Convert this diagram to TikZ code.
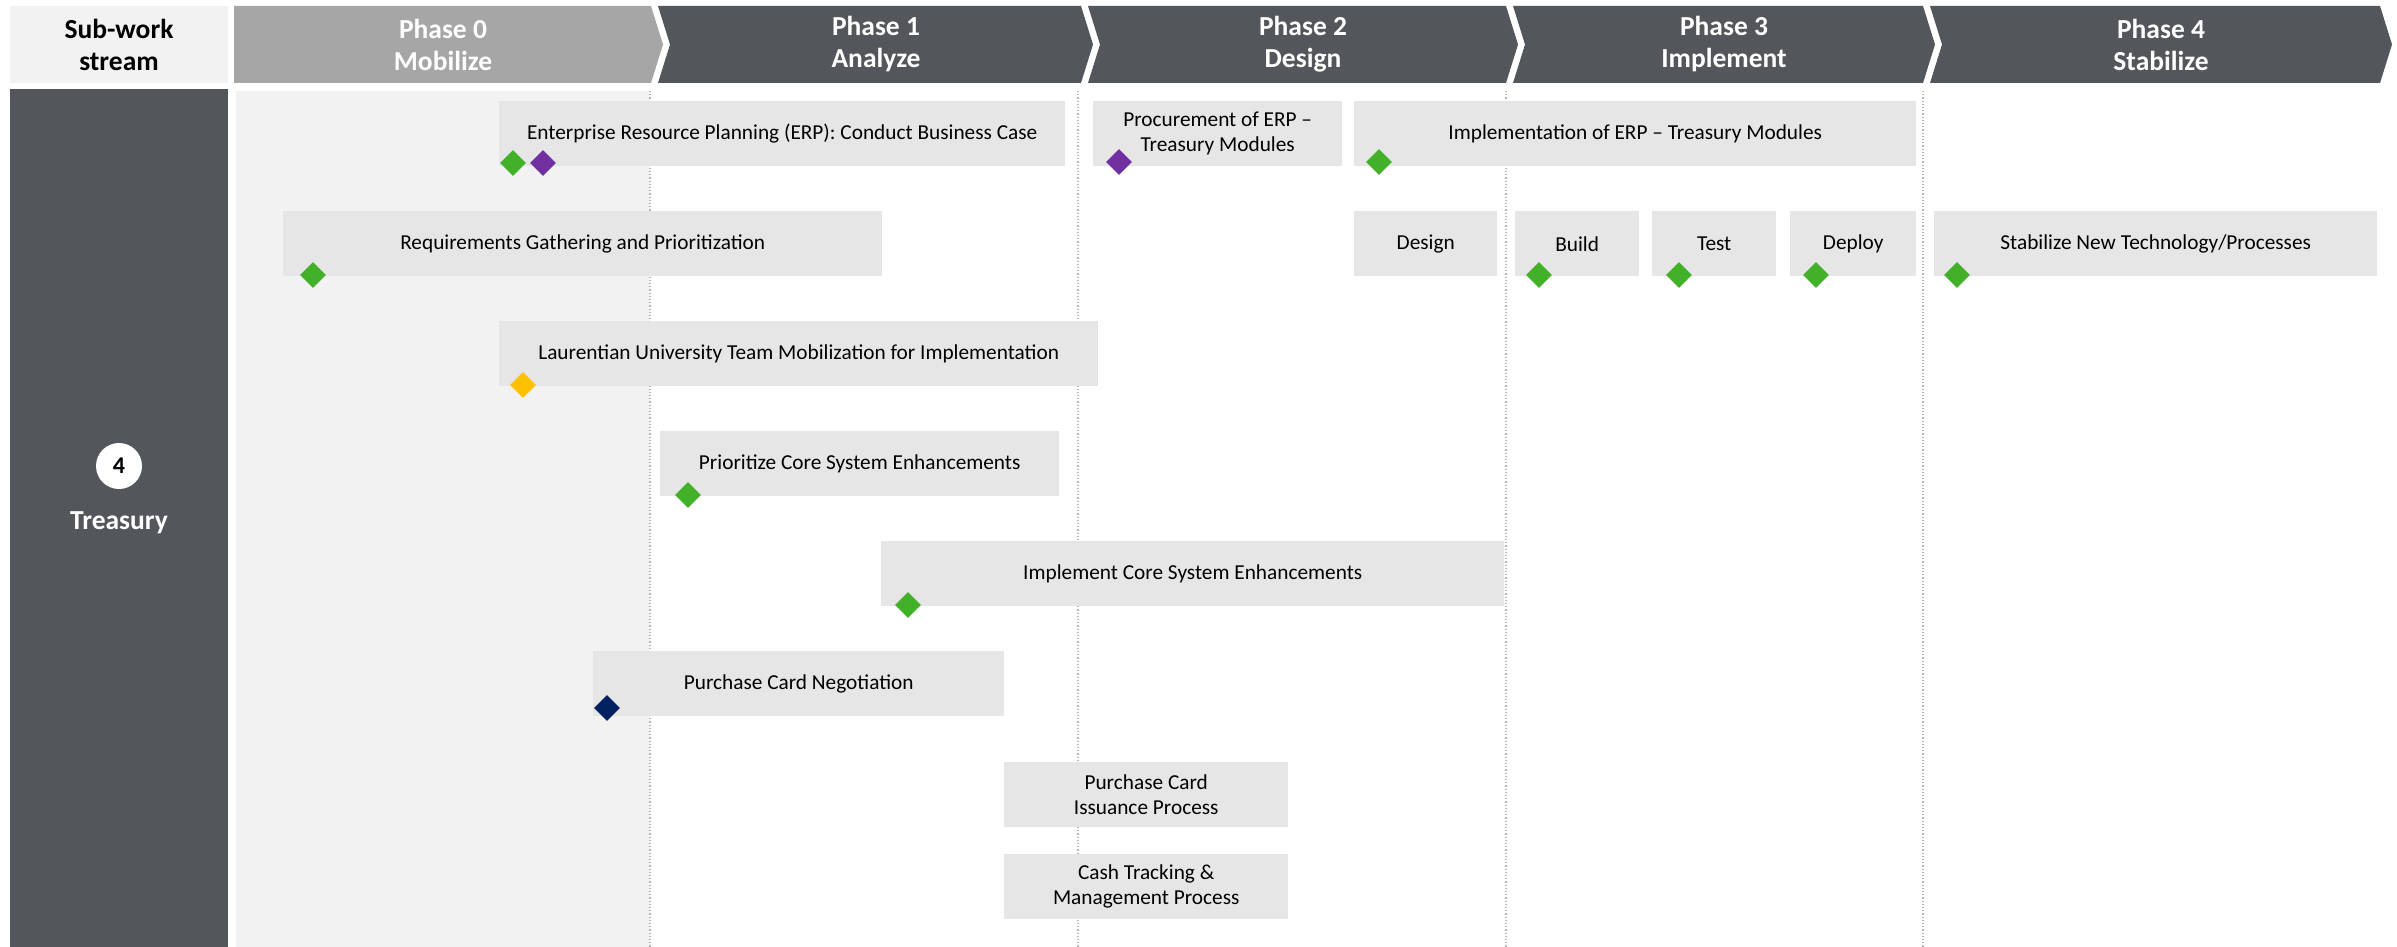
\documentclass[tikz,border=0pt]{standalone}
\usepackage{fontspec}
\setmainfont{Carlito}
\usetikzlibrary{positioning, shapes.geometric}

\definecolor{slate}{HTML}{53565A}
\definecolor{phasegrey}{HTML}{A6A6A6}
\definecolor{paleback}{HTML}{F2F2F2}
\definecolor{barfill}{HTML}{E6E6E6}
\definecolor{divline}{HTML}{B4B4B4}
\definecolor{msgreen}{HTML}{43B02A}
\definecolor{mspurple}{HTML}{7030A0}
\definecolor{msyellow}{HTML}{FFC000}
\definecolor{msnavy}{HTML}{002060}

\tikzset{
  x=1pt, y=-1pt, % one unit is one pixel of the slide, y runs downwards
  task/.style={rectangle, fill=barfill, anchor=north west, minimum height=65pt,
    inner sep=0pt, align=center, font=\fontsize{21.3}{25}\selectfont}, % activity bar
  ms/.style={diamond, minimum width=26pt, minimum height=26pt, inner sep=0pt}, % milestone
  phaselabel/.style={text=white, align=center,
    font=\fontsize{27.5}{32}\selectfont\bfseries}, % text in the header chevrons
  divider/.style={divline, dotted, line width=1.2pt}, % phase separators
}

\begin{document}
\begin{tikzpicture}
  \useasboundingbox (0,0) rectangle (2397,947);

  % header row
  \fill[paleback] (10,6) rectangle (228,83);
  \node[align=center, font=\fontsize{27.5}{32}\selectfont\bfseries] (subhead) at (119,44.5) {Sub-work\\stream};

  \fill[phasegrey] (234,6) -- (651,6) -- (663,44.5) -- (651,83) -- (234,83) -- cycle;
  \fill[slate] (658,6) -- (1081,6) -- (1093,44.5) -- (1081,83) -- (658,83) -- (670,44.5) -- cycle;
  \fill[slate] (1088,6) -- (1506,6) -- (1518,44.5) -- (1506,83) -- (1088,83) -- (1100,44.5) -- cycle;
  \fill[slate] (1513,6) -- (1923,6) -- (1935,44.5) -- (1923,83) -- (1513,83) -- (1525,44.5) -- cycle;
  \fill[slate] (1930,6) -- (2380,6) -- (2392,44.5) -- (2380,83) -- (1930,83) -- (1942,44.5) -- cycle;

  \node[phaselabel] (ph0) at (443,44.5) {Phase 0\\Mobilize};
  \node[phaselabel] (ph1) at (876,44.5) {Phase 1\\Analyze};
  \node[phaselabel] (ph2) at (1303,44.5) {Phase 2\\Design};
  \node[phaselabel] (ph3) at (1724,44.5) {Phase 3\\Implement};
  \node[phaselabel] (ph4) at (2161,44.5) {Phase 4\\Stabilize};

  % body
  \fill[slate] (10,89) rectangle (228,947);
  \fill[paleback] (236,91) rectangle (650,947);
  \draw[divider] (650,91) -- (650,947);
  \draw[divider] (1078,91) -- (1078,947);
  \draw[divider] (1506,91) -- (1506,947);
  \draw[divider] (1923,91) -- (1923,947);

  \node[circle, fill=white, minimum width=42pt, minimum height=46pt, inner sep=0pt,
    font=\fontsize{24}{28}\selectfont\bfseries] (num) at (119,466) {4};
  \node[text=white, font=\fontsize{27.5}{32}\selectfont\bfseries] (stream) at (119,523) {Treasury};

  % activities
  \node[task, minimum width=566pt] (erp) at (499,101) {Enterprise Resource Planning (ERP): Conduct Business Case};
  \node[task, minimum width=249pt] (procure) at (1093,101) {Procurement of ERP --\\Treasury Modules};
  \node[task, minimum width=562pt] (implerp) at (1354,101) {Implementation of ERP -- Treasury Modules};
  \node[task, minimum width=599pt] (reqs) at (283,211) {Requirements Gathering and Prioritization};
  \node[task, minimum width=143pt] (design) at (1354,211) {Design};
  \node[task, minimum width=124pt] (build) at (1515,211) {Build};
  \node[task, minimum width=124pt] (test) at (1652,211) {Test};
  \node[task, minimum width=126pt] (deploy) at (1790,211) {Deploy};
  \node[task, minimum width=443pt] (stab) at (1934,211) {Stabilize New Technology/Processes};
  \node[task, minimum width=599pt] (mobil) at (499,321) {Laurentian University Team Mobilization for Implementation};
  \node[task, minimum width=399pt] (prio) at (660,431) {Prioritize Core System Enhancements};
  \node[task, minimum width=623pt] (implcore) at (881,541) {Implement Core System Enhancements};
  \node[task, minimum width=411pt] (pcneg) at (593,651) {Purchase Card Negotiation};
  \node[task, minimum width=284pt] (pciss) at (1004,762) {Purchase Card\\Issuance Process};
  \node[task, minimum width=284pt] (cash) at (1004,854) {Cash Tracking \&\\Management Process};

  % milestones
  \node[ms, fill=msgreen] (erpA) at (513,163) {};
  \node[ms, fill=mspurple] (erpB) at (543,163) {};
  \node[ms, fill=mspurple] (procureA) at (1119,162) {};
  \node[ms, fill=msgreen] (implerpA) at (1379,162) {};
  \node[ms, fill=msgreen] (reqsA) at (313,275) {};
  \node[ms, fill=msgreen] (buildA) at (1539,275) {};
  \node[ms, fill=msgreen] (testA) at (1679,275) {};
  \node[ms, fill=msgreen] (deployA) at (1816,275) {};
  \node[ms, fill=msgreen] (stabA) at (1957,275) {};
  \node[ms, fill=msyellow] (mobilA) at (523,385) {};
  \node[ms, fill=msgreen] (prioA) at (688,495) {};
  \node[ms, fill=msgreen] (implcoreA) at (908,605) {};
  \node[ms, fill=msnavy] (pcnegA) at (607,708) {};
\end{tikzpicture}
\end{document}
